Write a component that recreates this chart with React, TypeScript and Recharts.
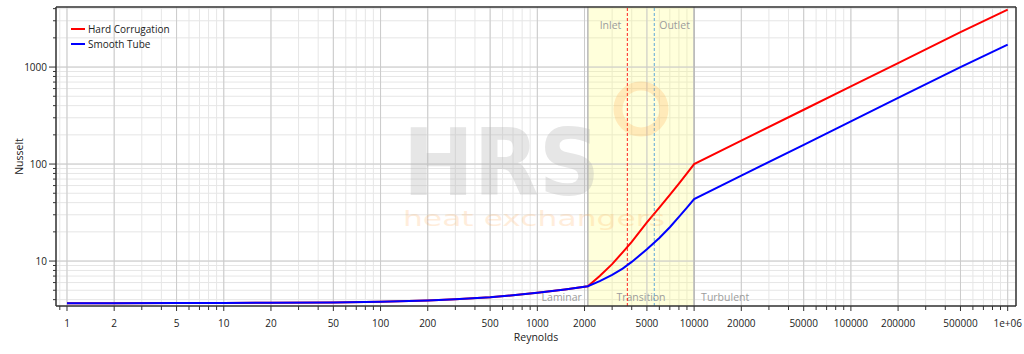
import React from "react";
import {
  LineChart,
  Line,
  XAxis,
  YAxis,
  CartesianGrid,
  ReferenceArea,
  ReferenceLine,
  Legend,
} from "recharts";

// Reynolds numbers sampled along the curves
const reynolds = [
  1, 2, 5, 10, 20, 50, 100, 200, 300, 500, 700, 1000, 1500, 2100, 2500, 3000,
  3500, 4000, 5000, 6000, 7000, 8000, 9000, 10000, 20000, 50000, 100000,
  200000, 500000, 1000000,
];
const hardCorrugation = [
  3.68, 3.68, 3.69, 3.7, 3.71, 3.74, 3.8, 3.93, 4.03, 4.23, 4.43, 4.71, 5.1,
  5.5, 7.0, 9.3, 12.3, 15.8, 25, 35.5, 48, 63, 80, 100, 174, 363, 631, 1100,
  2290, 3900,
];
const smoothTube = [
  3.68, 3.68, 3.69, 3.7, 3.71, 3.74, 3.8, 3.93, 4.03, 4.23, 4.43, 4.71, 5.1,
  5.5, 6.2, 7.2, 8.35, 9.8, 13.2, 17.3, 22.3, 28.5, 35.5, 43.5, 76, 158, 275,
  480, 1000, 1700,
];

const xTicks = [
  0.9, 1, 2, 3, 4, 5, 6, 7, 8, 9, 10, 20, 30, 40, 50, 60, 70, 80, 90, 100, 200,
  300, 400, 500, 600, 700, 800, 900, 1000, 2000, 3000, 4000, 5000, 6000, 7000,
  8000, 9000, 10000, 20000, 30000, 40000, 50000, 60000, 70000, 80000, 90000,
  100000, 200000, 300000, 400000, 500000, 600000, 700000, 800000, 900000,
  1000000,
];
const xLabelled = [
  1, 2, 5, 10, 20, 50, 100, 200, 500, 1000, 2000, 5000, 10000, 20000, 50000,
  100000, 200000, 500000, 1000000,
];
const yTicks = [
  4, 5, 6, 7, 8, 9, 10, 20, 30, 40, 50, 60, 70, 80, 90, 100, 200, 300, 400,
  500, 600, 700, 800, 900, 1000, 2000, 3000, 4000,
];
const yLabelled = [10, 100, 1000];

const laminarEnd = 2100;
const turbulentStart = 10000;
const inletRe = 3750;
const outletRe = 5570;

const X_MIN = 0.851;
const X_MAX = 1130000;
const Y_MIN = 3.44;
const Y_MAX = 4160;

const FONT = "'Open Sans', 'Noto Sans', sans-serif";

const data = reynolds.map((re, i) => ({
  re,
  hard: hardCorrugation[i],
  smooth: smoothTube[i],
}));

const fmtX = (v: number) => (v === 1000000 ? "1e+06" : String(v));

const XTick = (props: any) => {
  const { x, y, payload } = props;
  const v = payload.value;
  const major = xLabelled.includes(v);
  return (
    <g>
      <line x1={x} x2={x} y1={y - 10} y2={y - (major ? 5 : 6)} stroke="#333" />
      {major && (
        <text x={x} y={y} dy={11} textAnchor="middle" fontSize={10} fill="#222" fontFamily={FONT}>
          {fmtX(v)}
        </text>
      )}
    </g>
  );
};

const YTick = (props: any) => {
  const { x, y, payload } = props;
  const v = payload.value;
  const major = yLabelled.includes(v);
  return (
    <g>
      <line x1={x + (major ? 2 : 6)} x2={x + 9} y1={y} y2={y} stroke="#333" />
      {major && (
        <text x={x} y={y} dy={4} textAnchor="end" fontSize={10} fill="#222" fontFamily={FONT}>
          {v}
        </text>
      )}
    </g>
  );
};

const ZoneText = (props: any) => {
  const { viewBox, text, shift = 0, ty, anchor = "start", center } = props;
  const vb = viewBox || { x: 0, width: 0 };
  const tx = center ? vb.x + vb.width / 2 : vb.x + shift;
  return (
    <text x={tx} y={ty} textAnchor={anchor} fontSize={10.5} fill="#9c9c9c" fontFamily={FONT}>
      {text}
    </text>
  );
};

const LegendBox = (props: any) => {
  const items = props.payload || [];
  return (
    <div style={{ fontFamily: FONT, fontSize: 10, color: "#222" }}>
      {items.map((it: any) => (
        <div key={it.value} style={{ display: "flex", alignItems: "center", height: 15 }}>
          <span style={{ width: 14, height: 2, background: it.color, marginRight: 3 }} />
          <span>{it.value}</span>
        </div>
      ))}
    </div>
  );
};

const Watermark = () => (
  <svg
    width={1024}
    height={354}
    style={{ position: "absolute", left: 0, top: 0, pointerEvents: "none" }}
  >
    <circle cx={641} cy={109} r={23} fill="none" stroke="#ffa040" strokeOpacity={0.22} strokeWidth={9} />
    <text
      x={403}
      y={195}
      fontSize={92}
      fontWeight={700}
      fontFamily="'DejaVu Sans', sans-serif"
      fill="#b4b4b4"
      opacity={0.33}
      textLength={197}
      lengthAdjust="spacingAndGlyphs"
    >
      HRS
    </text>
    <text
      x={403}
      y={226}
      fontSize={22}
      fontFamily="'DejaVu Sans', sans-serif"
      fill="#ffa040"
      opacity={0.18}
      textLength={262}
      lengthAdjust="spacingAndGlyphs"
    >
      heat exchangers
    </text>
  </svg>
);

export default function App() {
  return (
    <div style={{ position: "absolute", left: 0, top: 0, width: 1024, height: 354, background: "#fff" }}>
      <LineChart
        width={1024}
        height={354}
        data={data}
        margin={{ top: 7, right: 8, left: 0, bottom: 0 }}
      >
        <CartesianGrid stroke="#e6e6e6" strokeWidth={1} />
        <XAxis
          dataKey="re"
          type="number"
          scale="log"
          domain={[X_MIN, X_MAX]}
          allowDataOverflow
          ticks={xTicks}
          interval={0}
          height={48}
          tickSize={5}
          tickMargin={5}
          tickLine={false}
          tick={<XTick />}
          axisLine={{ stroke: "#333", strokeWidth: 1.5 }}
          label={{ value: "Reynolds", position: "insideBottom", offset: 13, fill: "#222", fontSize: 10.5, fontFamily: FONT }}
        />
        <YAxis
          type="number"
          scale="log"
          domain={[Y_MIN, Y_MAX]}
          allowDataOverflow
          ticks={yTicks}
          interval={0}
          width={56}
          tickSize={7}
          tickMargin={2}
          tickLine={false}
          tick={<YTick />}
          axisLine={{ stroke: "#333", strokeWidth: 1.5 }}
          label={{
            value: "Nusselt",
            angle: -90,
            position: "insideLeft",
            offset: 19,
            fill: "#222",
            fontSize: 10.5,
            fontFamily: FONT,
            style: { textAnchor: "middle" },
          }}
        />
        {xLabelled.map((v) => (
          <ReferenceLine key={"gx" + v} x={v} stroke="#cbcbcb" />
        ))}
        {yLabelled.map((v) => (
          <ReferenceLine key={"gy" + v} y={v} stroke="#cbcbcb" />
        ))}
        <ReferenceArea
          x1={laminarEnd}
          x2={turbulentStart}
          fill="#ffff70"
          fillOpacity={0.25}
          stroke="none"
          label={<ZoneText text="Transition" center ty={301} anchor="middle" />}
        />
        <ReferenceLine
          x={laminarEnd}
          stroke="#b8b8b8"
          strokeWidth={1.5}
          label={<ZoneText text="Laminar" shift={-6} ty={301} anchor="end" />}
        />
        <ReferenceLine
          x={turbulentStart}
          stroke="#b8b8b8"
          strokeWidth={1.5}
          label={<ZoneText text="Turbulent" shift={7} ty={301} anchor="start" />}
        />
        <ReferenceLine
          x={inletRe}
          stroke="#ff2020"
          strokeDasharray="3 2"
          label={<ZoneText text="Inlet" shift={-6} ty={29} anchor="end" />}
        />
        <ReferenceLine
          x={outletRe}
          stroke="#5fa8d8"
          strokeDasharray="3 2"
          label={<ZoneText text="Outlet" shift={5} ty={29} anchor="start" />}
        />
        <ReferenceLine x={X_MAX} stroke="#333" strokeWidth={1.5} />
        <ReferenceLine y={Y_MAX} stroke="#333" strokeWidth={1.5} />
        <Legend
          layout="horizontal"
          verticalAlign="middle"
          align="center"
          content={<LegendBox />}
          wrapperStyle={{ left: 71, top: 21, width: 160 }}
        />
        <Line
          dataKey="hard"
          name="Hard Corrugation"
          stroke="#ff0000"
          strokeWidth={2}
          dot={false}
          type="linear"
          isAnimationActive={false}
        />
        <Line
          dataKey="smooth"
          name="Smooth Tube"
          stroke="#0000ff"
          strokeWidth={2}
          dot={false}
          type="linear"
          isAnimationActive={false}
        />
      </LineChart>
      <Watermark />
    </div>
  );
}
